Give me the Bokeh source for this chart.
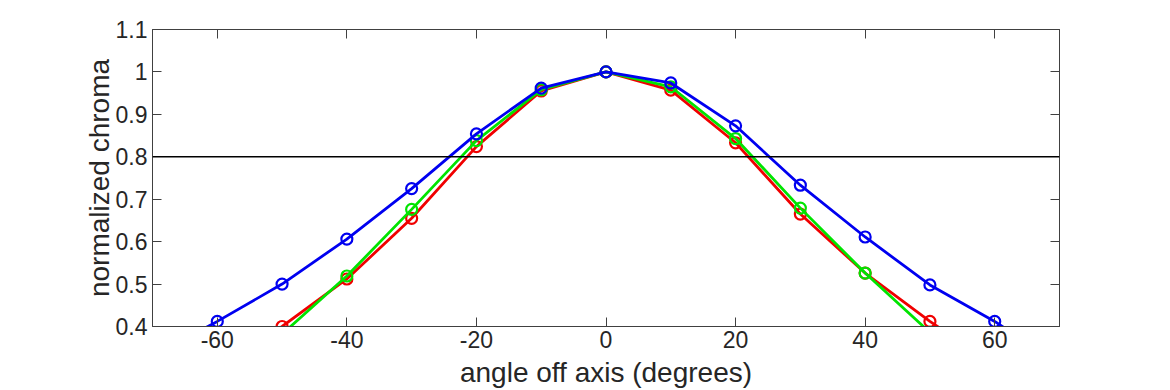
from bokeh.plotting import figure
from bokeh.models import LinearAxis, FixedTicker, Span, ColumnDataSource, PrintfTickFormatter
from bokeh.embed import file_html
from bokeh.resources import INLINE

# ---- data ----
angles = [-70, -60, -50, -40, -30, -20, -10, 0, 10, 20, 30, 40, 50, 60, 70]
red_vals = [0.20, 0.29, 0.400, 0.512, 0.655, 0.824, 0.955, 1.0, 0.957, 0.833, 0.665, 0.526, 0.412, 0.31, 0.22]
green_vals = [0.14, 0.25, 0.382, 0.519, 0.676, 0.838, 0.958, 1.0, 0.965, 0.843, 0.679, 0.526, 0.386, 0.26, 0.15]
blue_vals = [0.33, 0.412, 0.500, 0.606, 0.725, 0.854, 0.962, 1.0, 0.974, 0.873, 0.733, 0.611, 0.498, 0.412, 0.31]
x_ticks = [-60, -40, -20, 0, 20, 40, 60]
y_ticks = [0.4, 0.5, 0.6, 0.7, 0.8, 0.9, 1.0, 1.1]
threshold = 0.8
x_label = "angle off axis (degrees)"
y_label = "normalized chroma"

FONT = "Liberation Sans"
TXT = "#262626"
AX = "#404040"

p = figure(width=1170, height=390, output_backend="svg", toolbar_location=None,
           x_range=(-70, 70), y_range=(0.4, 1.1),
           min_border_left=152, min_border_right=111, min_border_top=29, min_border_bottom=62,
           x_axis_location=None, y_axis_location=None)
p.background_fill_color = "white"
p.border_fill_color = "white"
p.outline_line_color = AX
p.outline_line_width = 1
p.xgrid.visible = False
p.ygrid.visible = False

def style_axis(ax, labels=True):
    ax.axis_line_color = AX
    ax.major_tick_line_color = AX
    ax.major_tick_in = 9
    ax.major_tick_out = 0
    ax.minor_tick_line_color = None
    ax.major_label_text_font = FONT
    ax.major_label_text_color = TXT
    ax.axis_label_text_font = FONT
    ax.axis_label_text_color = TXT
    ax.axis_label_text_font_style = "normal"
    if labels:
        ax.major_label_text_font_size = "23px"
        ax.axis_label_text_font_size = "28px"
    else:
        ax.major_label_text_font_size = "1px"
        ax.major_label_text_color = None
        ax.major_label_standoff = 0

xb = LinearAxis(ticker=FixedTicker(ticks=x_ticks), axis_label=x_label,
                formatter=PrintfTickFormatter(format="%d"))
style_axis(xb)
xb.major_label_standoff = 4
xb.axis_label_standoff = 6
p.add_layout(xb, "below")

xt = LinearAxis(ticker=FixedTicker(ticks=x_ticks))
style_axis(xt, labels=False)
p.add_layout(xt, "above")

yl = LinearAxis(ticker=FixedTicker(ticks=y_ticks), axis_label=y_label)
style_axis(yl)
yl.major_label_standoff = 5
yl.axis_label_standoff = -2
yl.major_label_overrides = {1: "1", 1.0: "1"}
p.add_layout(yl, "left")

yr = LinearAxis(ticker=FixedTicker(ticks=y_ticks))
style_axis(yr, labels=False)
p.add_layout(yr, "right")

p.add_layout(Span(location=threshold, dimension="width", line_color="black", line_width=1.5))

series = [(red_vals, "#f00000"), (green_vals, "#00e400"), (blue_vals, "#0000f0")]
for vals, col in series:
    src = ColumnDataSource(dict(x=angles, y=vals))
    p.line("x", "y", source=src, line_color=col, line_width=2.8)
    p.scatter("x", "y", source=src, marker="circle", size=11, line_color=col,
              line_width=2.2, fill_alpha=0)

open("out.html", "w").write(file_html(p, INLINE))
